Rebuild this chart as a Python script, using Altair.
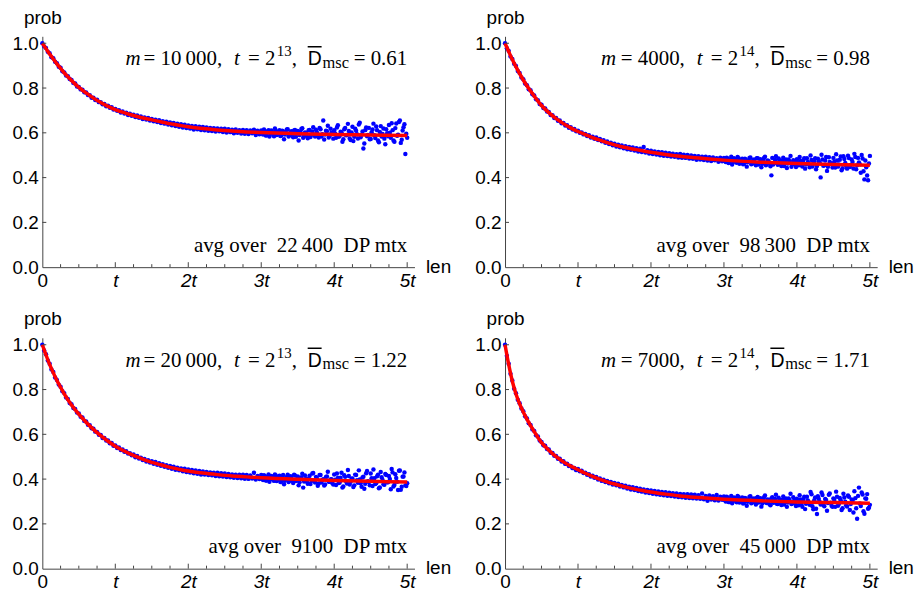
import altair as alt
import pandas as pd

# ---------------- data ----------------
GRID = [round(i * 0.025, 3) for i in range(201)]            # len / t
EXTRA_GRID = [round(3.0125 + k * 0.025, 4) for k in range(80)]  # extra samples in the tail

CURVE_X = [0, 0.05, 0.1, 0.15, 0.2, 0.25, 0.3, 0.4, 0.5, 0.6, 0.7, 0.8, 0.9, 1.0,
           1.1, 1.2, 1.3, 1.4, 1.5, 1.6, 1.7, 1.8, 1.9, 2.0, 2.2, 2.4, 2.6, 2.8,
           3.0, 3.5, 4.0, 4.5, 5.0]

P1_CURVE = [1.0, 0.976, 0.952, 0.930, 0.908, 0.888, 0.868, 0.834, 0.803, 0.778, 0.755,
            0.735, 0.718, 0.704, 0.692, 0.682, 0.673, 0.665, 0.658, 0.651, 0.644, 0.638,
            0.632, 0.627, 0.619, 0.613, 0.608, 0.604, 0.601, 0.596, 0.593, 0.590, 0.588]
P2_CURVE = [1.0, 0.963, 0.927, 0.895, 0.864, 0.836, 0.810, 0.764, 0.722, 0.690, 0.663,
            0.641, 0.622, 0.606, 0.592, 0.579, 0.567, 0.556, 0.546, 0.538, 0.531, 0.525,
            0.519, 0.513, 0.503, 0.495, 0.489, 0.483, 0.478, 0.469, 0.463, 0.459, 0.455]
P3_CURVE = [1.0, 0.955, 0.912, 0.875, 0.840, 0.810, 0.781, 0.731, 0.690, 0.654, 0.622,
            0.594, 0.569, 0.547, 0.529, 0.513, 0.499, 0.486, 0.475, 0.466, 0.457, 0.449,
            0.442, 0.436, 0.427, 0.420, 0.414, 0.410, 0.406, 0.399, 0.394, 0.390, 0.387]
P4_CURVE = [1.0, 0.912, 0.837, 0.780, 0.736, 0.700, 0.668, 0.612, 0.563, 0.529, 0.500,
            0.477, 0.458, 0.442, 0.426, 0.412, 0.399, 0.388, 0.378, 0.369, 0.361, 0.354,
            0.348, 0.342, 0.333, 0.325, 0.319, 0.314, 0.310, 0.303, 0.298, 0.295, 0.292]

P1_POINTS = [
    1.000, 0.986, 0.979, 0.962, 0.955, 0.938, 0.933, 0.917, 0.911, 0.895,
    0.891, 0.875, 0.870, 0.856, 0.853, 0.840, 0.836, 0.823, 0.820, 0.807,
    0.805, 0.794, 0.792, 0.781, 0.780, 0.769, 0.768, 0.757, 0.757, 0.747,
    0.748, 0.737, 0.737, 0.728, 0.729, 0.719, 0.721, 0.712, 0.714, 0.704,
    0.707, 0.698, 0.701, 0.691, 0.695, 0.686, 0.690, 0.680, 0.685, 0.676,
    0.681, 0.671, 0.677, 0.667, 0.673, 0.662, 0.669, 0.659, 0.666, 0.655,
    0.662, 0.652, 0.659, 0.648, 0.656, 0.644, 0.652, 0.641, 0.650, 0.637,
    0.646, 0.634, 0.644, 0.630, 0.641, 0.627, 0.638, 0.624, 0.636, 0.621,
    0.633, 0.619, 0.631, 0.615, 0.629, 0.616, 0.627, 0.613, 0.626, 0.611,
    0.624, 0.609, 0.622, 0.608, 0.621, 0.606, 0.619, 0.607, 0.618, 0.604,
    0.618, 0.601, 0.616, 0.603, 0.614, 0.598, 0.615, 0.600, 0.612, 0.597,
    0.613, 0.596, 0.612, 0.595, 0.610, 0.598, 0.614, 0.590, 0.609, 0.594,
    0.611, 0.592, 0.607, 0.589, 0.612, 0.596, 0.604, 0.585, 0.609, 0.593,
    0.612, 0.588, 0.606, 0.592, 0.615, 0.584, 0.603, 0.591, 0.610, 0.582,
    0.608, 0.590, 0.617, 0.578, 0.602, 0.586, 0.612, 0.581, 0.606, 0.592,
    0.614, 0.588, 0.622, 0.583, 0.655, 0.592, 0.607, 0.579, 0.618, 0.596,
    0.612, 0.578, 0.634, 0.587, 0.603, 0.571, 0.622, 0.590, 0.608, 0.568,
    0.627, 0.582, 0.609, 0.575, 0.645, 0.591, 0.530, 0.612, 0.585, 0.622,
    0.572, 0.615, 0.589, 0.628, 0.566, 0.604, 0.583, 0.619, 0.549, 0.598,
    0.635, 0.578, 0.612, 0.560, 0.642, 0.592, 0.655, 0.569, 0.625, 0.505, 0.578]
P1_EXTRA = [
    0.597, 0.615, 0.588, 0.606, 0.583, 0.611, 0.594, 0.619, 0.590, 0.603,
    0.586, 0.609, 0.571, 0.600, 0.616, 0.589, 0.607, 0.580, 0.613, 0.598,
    0.566, 0.604, 0.620, 0.587, 0.599, 0.576, 0.613, 0.591, 0.625, 0.583,
    0.603, 0.579, 0.616, 0.594, 0.570, 0.609, 0.632, 0.586, 0.600, 0.574,
    0.597, 0.624, 0.582, 0.605, 0.560, 0.616, 0.589, 0.640, 0.575, 0.601,
    0.563, 0.618, 0.594, 0.637, 0.580, 0.606, 0.552, 0.624, 0.590, 0.571,
    0.603, 0.641, 0.577, 0.612, 0.558, 0.630, 0.595, 0.574, 0.616, 0.585,
    0.600, 0.643, 0.566, 0.621, 0.587, 0.648, 0.555, 0.610, 0.638, 0.596]

P2_POINTS = [
    1.000, 0.978, 0.966, 0.941, 0.930, 0.908, 0.898, 0.876, 0.867, 0.847,
    0.839, 0.820, 0.813, 0.795, 0.790, 0.772, 0.767, 0.750, 0.746, 0.729,
    0.725, 0.711, 0.709, 0.695, 0.693, 0.680, 0.679, 0.666, 0.666, 0.654,
    0.655, 0.643, 0.644, 0.633, 0.634, 0.623, 0.625, 0.615, 0.617, 0.607,
    0.609, 0.600, 0.602, 0.593, 0.595, 0.586, 0.589, 0.579, 0.582, 0.573,
    0.579, 0.568, 0.573, 0.562, 0.567, 0.556, 0.561, 0.550, 0.556, 0.544,
    0.551, 0.539, 0.547, 0.535, 0.543, 0.531, 0.540, 0.527, 0.537, 0.524,
    0.534, 0.521, 0.531, 0.517, 0.529, 0.514, 0.537, 0.512, 0.522, 0.508,
    0.520, 0.505, 0.517, 0.503, 0.515, 0.500, 0.513, 0.498, 0.511, 0.496,
    0.509, 0.494, 0.507, 0.493, 0.504, 0.490, 0.506, 0.489, 0.502, 0.488,
    0.501, 0.485, 0.499, 0.484, 0.497, 0.480, 0.496, 0.481, 0.493, 0.479,
    0.493, 0.476, 0.491, 0.474, 0.490, 0.477, 0.486, 0.471, 0.489, 0.473,
    0.488, 0.470, 0.485, 0.468, 0.493, 0.472, 0.482, 0.466, 0.487, 0.470,
    0.484, 0.463, 0.481, 0.468, 0.488, 0.460, 0.478, 0.466, 0.486, 0.458,
    0.482, 0.462, 0.488, 0.455, 0.476, 0.464, 0.410, 0.458, 0.480, 0.466,
    0.485, 0.459, 0.476, 0.452, 0.481, 0.463, 0.472, 0.448, 0.478, 0.460,
    0.482, 0.455, 0.474, 0.450, 0.487, 0.458, 0.470, 0.446, 0.479, 0.462,
    0.486, 0.452, 0.473, 0.401, 0.481, 0.455, 0.492, 0.448, 0.470, 0.463,
    0.488, 0.445, 0.476, 0.459, 0.494, 0.442, 0.483, 0.452, 0.498, 0.447,
    0.481, 0.441, 0.492, 0.455, 0.468, 0.422, 0.485, 0.392, 0.446, 0.388, 0.497]
P2_EXTRA = [
    0.474, 0.489, 0.465, 0.481, 0.458, 0.486, 0.470, 0.492, 0.462, 0.477,
    0.460, 0.484, 0.449, 0.475, 0.490, 0.463, 0.481, 0.455, 0.487, 0.469,
    0.446, 0.478, 0.493, 0.460, 0.473, 0.451, 0.488, 0.465, 0.495, 0.457,
    0.476, 0.452, 0.489, 0.466, 0.443, 0.481, 0.497, 0.459, 0.472, 0.447,
    0.469, 0.492, 0.455, 0.478, 0.440, 0.486, 0.461, 0.499, 0.450, 0.473,
    0.437, 0.484, 0.466, 0.502, 0.453, 0.476, 0.430, 0.491, 0.462, 0.445,
    0.471, 0.504, 0.449, 0.480, 0.433, 0.495, 0.465, 0.440, 0.487, 0.456,
    0.470, 0.506, 0.437, 0.488, 0.459, 0.501, 0.428, 0.476, 0.409, 0.463]

P3_POINTS = [
    1.000, 0.974, 0.958, 0.930, 0.915, 0.890, 0.878, 0.854, 0.843, 0.822,
    0.813, 0.792, 0.784, 0.765, 0.758, 0.740, 0.734, 0.717, 0.713, 0.697,
    0.693, 0.678, 0.675, 0.660, 0.657, 0.643, 0.641, 0.627, 0.625, 0.612,
    0.611, 0.598, 0.597, 0.584, 0.584, 0.572, 0.572, 0.560, 0.561, 0.549,
    0.550, 0.539, 0.541, 0.530, 0.532, 0.522, 0.524, 0.514, 0.516, 0.506,
    0.510, 0.498, 0.503, 0.492, 0.496, 0.485, 0.490, 0.479, 0.484, 0.474,
    0.480, 0.469, 0.476, 0.464, 0.471, 0.460, 0.467, 0.455, 0.462, 0.451,
    0.459, 0.446, 0.455, 0.442, 0.451, 0.439, 0.448, 0.435, 0.446, 0.432,
    0.443, 0.429, 0.441, 0.426, 0.438, 0.424, 0.436, 0.421, 0.434, 0.420,
    0.432, 0.418, 0.430, 0.417, 0.429, 0.414, 0.428, 0.413, 0.426, 0.412,
    0.425, 0.409, 0.423, 0.408, 0.421, 0.406, 0.420, 0.405, 0.419, 0.404,
    0.420, 0.402, 0.418, 0.401, 0.416, 0.403, 0.428, 0.398, 0.414, 0.400,
    0.418, 0.396, 0.413, 0.394, 0.421, 0.399, 0.410, 0.392, 0.416, 0.397,
    0.415, 0.390, 0.418, 0.393, 0.409, 0.387, 0.413, 0.394, 0.420, 0.391,
    0.412, 0.386, 0.407, 0.362, 0.416, 0.389, 0.403, 0.378, 0.425, 0.392,
    0.410, 0.370, 0.418, 0.385, 0.400, 0.376, 0.412, 0.388, 0.398, 0.381,
    0.421, 0.374, 0.405, 0.385, 0.428, 0.367, 0.410, 0.380, 0.414, 0.388,
    0.403, 0.372, 0.418, 0.384, 0.398, 0.366, 0.411, 0.379, 0.436, 0.387,
    0.425, 0.369, 0.404, 0.382, 0.419, 0.363, 0.408, 0.377, 0.423, 0.386,
    0.414, 0.355, 0.430, 0.374, 0.405, 0.351, 0.438, 0.366, 0.412, 0.372, 0.382]
P3_EXTRA = [
    0.402, 0.417, 0.394, 0.410, 0.388, 0.414, 0.399, 0.421, 0.391, 0.405,
    0.387, 0.412, 0.377, 0.403, 0.419, 0.392, 0.409, 0.383, 0.416, 0.398,
    0.372, 0.406, 0.424, 0.389, 0.401, 0.379, 0.415, 0.393, 0.427, 0.385,
    0.404, 0.380, 0.418, 0.396, 0.371, 0.410, 0.433, 0.388, 0.400, 0.376,
    0.397, 0.425, 0.383, 0.406, 0.362, 0.417, 0.390, 0.441, 0.376, 0.402,
    0.365, 0.420, 0.395, 0.439, 0.381, 0.407, 0.357, 0.426, 0.391, 0.372,
    0.404, 0.443, 0.378, 0.413, 0.359, 0.432, 0.396, 0.375, 0.418, 0.386,
    0.401, 0.445, 0.367, 0.422, 0.388, 0.437, 0.352, 0.411, 0.430, 0.369]

P4_POINTS = [
    1.000, 0.951, 0.915, 0.870, 0.840, 0.804, 0.783, 0.754, 0.739, 0.715,
    0.703, 0.681, 0.671, 0.650, 0.642, 0.622, 0.615, 0.596, 0.590, 0.572,
    0.566, 0.551, 0.549, 0.534, 0.532, 0.518, 0.517, 0.504, 0.503, 0.491,
    0.491, 0.479, 0.480, 0.468, 0.469, 0.458, 0.459, 0.449, 0.450, 0.440,
    0.445, 0.435, 0.437, 0.427, 0.429, 0.419, 0.422, 0.412, 0.415, 0.406,
    0.409, 0.398, 0.403, 0.392, 0.397, 0.387, 0.392, 0.381, 0.387, 0.376,
    0.383, 0.372, 0.379, 0.367, 0.374, 0.363, 0.370, 0.358, 0.366, 0.354,
    0.364, 0.351, 0.360, 0.347, 0.357, 0.344, 0.354, 0.340, 0.352, 0.338,
    0.349, 0.335, 0.347, 0.332, 0.345, 0.330, 0.343, 0.328, 0.341, 0.326,
    0.339, 0.324, 0.337, 0.322, 0.336, 0.320, 0.334, 0.319, 0.333, 0.317,
    0.333, 0.316, 0.331, 0.314, 0.330, 0.313, 0.328, 0.312, 0.336, 0.310,
    0.325, 0.303, 0.327, 0.309, 0.323, 0.306, 0.329, 0.304, 0.321, 0.308,
    0.322, 0.300, 0.318, 0.298, 0.325, 0.303, 0.315, 0.297, 0.320, 0.301,
    0.318, 0.294, 0.314, 0.299, 0.321, 0.292, 0.311, 0.298, 0.316, 0.295,
    0.315, 0.291, 0.319, 0.296, 0.309, 0.288, 0.314, 0.294, 0.311, 0.290,
    0.317, 0.292, 0.308, 0.287, 0.313, 0.295, 0.306, 0.289, 0.319, 0.293,
    0.312, 0.283, 0.309, 0.276, 0.321, 0.290, 0.305, 0.285, 0.332, 0.265,
    0.318, 0.244, 0.311, 0.287, 0.329, 0.279, 0.307, 0.293, 0.336, 0.281,
    0.314, 0.276, 0.321, 0.289, 0.306, 0.270, 0.318, 0.283, 0.327, 0.262,
    0.309, 0.251, 0.315, 0.223, 0.362, 0.280, 0.331, 0.245, 0.312, 0.268, 0.285]
P4_EXTRA = [
    0.306, 0.321, 0.298, 0.314, 0.292, 0.318, 0.303, 0.325, 0.295, 0.309,
    0.291, 0.316, 0.281, 0.307, 0.323, 0.296, 0.313, 0.287, 0.320, 0.302,
    0.277, 0.310, 0.327, 0.293, 0.305, 0.283, 0.319, 0.297, 0.330, 0.289,
    0.308, 0.284, 0.322, 0.300, 0.276, 0.314, 0.335, 0.291, 0.304, 0.280,
    0.301, 0.328, 0.287, 0.310, 0.266, 0.321, 0.294, 0.342, 0.279, 0.306,
    0.268, 0.323, 0.298, 0.340, 0.284, 0.311, 0.259, 0.330, 0.295, 0.276,
    0.307, 0.344, 0.281, 0.316, 0.262, 0.335, 0.299, 0.278, 0.321, 0.289,
    0.304, 0.346, 0.270, 0.325, 0.291, 0.340, 0.256, 0.314, 0.333, 0.272]

M_TEXT = ["10\u2009000", "4000", "20\u2009000", "7000"]
T_EXP = ["13", "14", "13", "14"]
D_MSC = ["0.61", "0.98", "1.22", "1.71"]
N_AVG = ["22\u2009400", "98\u2009300", "9100", "45\u2009000"]

MAJOR_TICKS = [0, 1, 2, 3, 4, 5]
MINOR_TICKS = [0.25, 0.5, 0.75, 1.25, 1.5, 1.75, 2.25, 2.5, 2.75, 3.25, 3.5, 3.75,
               4.25, 4.5, 4.75]
Y_TICKS = [0.2, 0.4, 0.6, 0.8, 1.0]

# ---------------- layout / style ----------------
W, H = 374, 232
XMAX, YMAX = 5.1, 1.031
X5 = W * 5 / XMAX
SANS = "Liberation Sans"
SERIF = "Liberation Serif"
AXC = "#444444"
ONE = pd.DataFrame({"k": [0]})

xscale = alt.Scale(domain=[0, XMAX], nice=False, zero=False)
yscale = alt.Scale(domain=[0, YMAX], nice=False, zero=False)

xaxis = alt.Axis(
    values=MAJOR_TICKS,
    labelExpr="datum.value == 0 ? '0' : (datum.value == 1 ? 't' : datum.value + 't')",
    labelFontStyle={"condition": {"test": "datum.value == 0", "value": "normal"}, "value": "italic"},
    labelFont=SANS, labelFontSize=19, labelPadding=4, labelFlush=False, labelOverlap=False,
    ticks=False, tickSize=0, grid=False, domainColor=AXC, labelColor="black",
    title="len", titleAngle=0, titleX=W + 11, titleY=-1, titleAlign="left",
    titleBaseline="middle", titleFont=SANS, titleFontSize=19, titleFontWeight="normal",
    titleColor="black",
)
yaxis = alt.Axis(
    values=[0, 0.2, 0.4, 0.6, 0.8, 1.0], format=".1f",
    labelFont=SANS, labelFontSize=19, labelPadding=4, labelFlush=False, labelOverlap=False,
    ticks=False, tickSize=0, grid=False, domainColor=AXC, labelColor="black",
    title="prob", titleAngle=0, titleX=0, titleY=-13, titleAlign="center",
    titleBaseline="alphabetic", titleFont=SANS, titleFontSize=19, titleFontWeight="normal",
    titleColor="black",
)

XENC = alt.X("len:Q", scale=xscale, axis=xaxis)
YENC = alt.Y("prob:Q", scale=yscale, axis=yaxis)


def txt(s, x, y, size, font=SERIF, style="normal", align="left"):
    return alt.Chart(ONE).mark_text(
        text=s, font=font, fontSize=size, fontStyle=style, align=align,
        baseline="alphabetic", color="black"
    ).encode(x=alt.value(x), y=alt.value(y))


def panel(points, extra, curve, m_text, m_right, t_exp, d_val, n_avg):
    pts = pd.DataFrame({"len": GRID + EXTRA_GRID, "prob": points + extra})
    crv = pd.DataFrame({"len": CURVE_X, "prob": curve})
    dots = alt.Chart(pts).mark_circle(size=20, color="#0000ff", opacity=1).encode(x=XENC, y=YENC)
    line = alt.Chart(crv).mark_line(color="#ff0000", strokeWidth=3.5, interpolate="monotone").encode(x=XENC, y=YENC)
    major = alt.Chart(pd.DataFrame({"len": MAJOR_TICKS[1:]})).mark_rule(color=AXC, strokeWidth=1).encode(
        x=XENC, y=alt.value(H), y2=alt.value(H - 5))
    minor = alt.Chart(pd.DataFrame({"len": MINOR_TICKS})).mark_rule(color=AXC, strokeWidth=1).encode(
        x=XENC, y=alt.value(H), y2=alt.value(H - 3))
    yt = alt.Chart(pd.DataFrame({"prob": Y_TICKS})).mark_rule(color=AXC, strokeWidth=1).encode(
        y=YENC, x=alt.value(0), x2=alt.value(4))
    yb = 29.3
    texts = [
        txt("m", X5 + m_right, yb, 21, style="italic", align="right"),
        txt("= " + m_text + ",", X5 - 186, yb, 21, align="right"),
        txt("t", X5 - 174, yb, 21, style="italic"),
        txt("= 2", X5 - 160, yb, 21),
        txt(t_exp, X5 - 131, yb - 9.5, 15),
        txt(",", X5 - 116, yb, 21),
        txt("D", X5 - 100, yb, 19.5, font=SANS),
        txt("msc", X5 - 85, yb + 2.5, 16.5),
        txt("= " + d_val, X5, yb, 21, align="right"),
        txt("avg over\u00a0\u00a0" + n_avg + "\u00a0\u00a0DP mtx", X5, 216.7, 21, align="right"),
    ]
    bar = alt.Chart(ONE).mark_rule(color="black", strokeWidth=1.5).encode(
        x=alt.value(X5 - 100), x2=alt.value(X5 - 86), y=alt.value(10.5))
    return alt.layer(dots, line, major, minor, yt, *texts, bar).properties(width=W, height=H)


panels = [
    panel(P1_POINTS, P1_EXTRA, P1_CURVE, M_TEXT[0], -268, T_EXP[0], D_MSC[0], N_AVG[0]),
    panel(P2_POINTS, P2_EXTRA, P2_CURVE, M_TEXT[1], -255, T_EXP[1], D_MSC[1], N_AVG[1]),
    panel(P3_POINTS, P3_EXTRA, P3_CURVE, M_TEXT[2], -268, T_EXP[2], D_MSC[2], N_AVG[2]),
    panel(P4_POINTS, P4_EXTRA, P4_CURVE, M_TEXT[3], -255, T_EXP[3], D_MSC[3], N_AVG[3]),
]

chart = alt.concat(
    *panels, columns=2, spacing={"row": 71, "column": 91}, bounds="flush"
).properties(
    padding={"left": 3.5, "top": -1, "right": 0, "bottom": 0}, background="white"
).configure_view(stroke=None)

chart.save("out.html", embed_options={"renderer": "svg", "actions": False})
